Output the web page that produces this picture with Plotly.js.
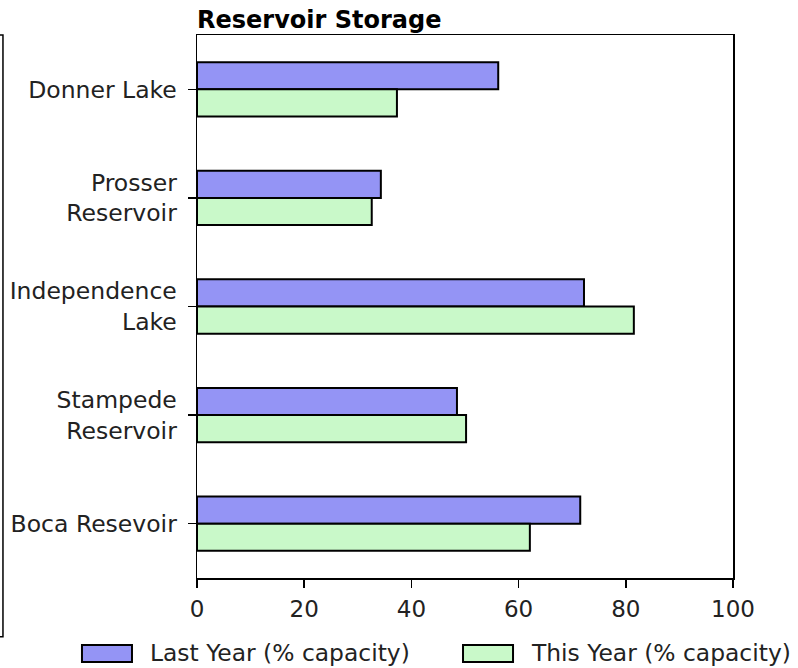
<!DOCTYPE html>
<html>
<head>
<meta charset="utf-8">
<script src="https://cdn.plot.ly/plotly-3.0.1.min.js"></script>
<style>html,body{margin:0;padding:0;background:#fff;}#chart{width:798px;height:668px;}</style>
</head>
<body>
<div id="chart"></div>
<script>
const categories = ["Donner Lake", "Prosser<br>Reservoir", "Independence<br>Lake", "Stampede<br>Reservoir", "Boca Resevoir"];
const lastYear = [56.2, 34.3, 72.2, 48.5, 71.5];
const thisYear = [37.3, 32.6, 81.5, 50.2, 62.1];
const seriesNames = ["Last Year (% capacity)", "This Year (% capacity)"];
const seriesColors = ["#9494f5", "#c9f9c9"];
const xTicks = [0, 20, 40, 60, 80, 100];
const chartTitle = "Reservoir Storage";

const font = "DejaVu Sans, sans-serif";
const traces = [lastYear, thisYear].map((vals, i) => ({
  type: "bar", orientation: "h",
  y: categories, x: vals, name: seriesNames[i],
  marker: {color: seriesColors[i], line: {color: "#000", width: 2}},
  showlegend: false, hoverinfo: "x+y"
}));

const shapes = [
  {type: "path", xref: "paper", yref: "paper",
   path: "M -0.368 1 L -0.362 1 L -0.362 -0.108 L -0.368 -0.108",
   line: {color: "#000", width: 1.5}}
];
const annotations = [];
const legX = [-0.2146, 0.4963];
seriesNames.forEach((n, i) => {
  shapes.push({type: "rect", xref: "paper", yref: "paper",
    x0: legX[i], x1: legX[i] + 0.0933, y0: -0.1547, y1: -0.1234,
    fillcolor: seriesColors[i], line: {color: "#000", width: 2}});
  annotations.push({xref: "paper", yref: "paper", x: legX[i] + 0.123, y: -0.139,
    xanchor: "left", yanchor: "middle", text: n, showarrow: false,
    font: {family: font, size: 23.4, color: "#222"}});
});

const layout = {
  width: 798, height: 668,
  margin: {l: 197, r: 65, t: 35, b: 90},
  paper_bgcolor: "#fff", plot_bgcolor: "#fff",
  barmode: "group", bargap: 0.5, bargroupgap: 0,
  title: {text: "<b>" + chartTitle + "</b>", x: 197/798, xanchor: "left", y: 0.97, yanchor: "middle",
          font: {family: font, size: 24, color: "#000"}},
  xaxis: {range: [0, 100], tickvals: xTicks, ticktext: xTicks.map(String),
          showgrid: false, zeroline: false, showline: true, mirror: true,
          linecolor: "#000", linewidth: 1.5, ticks: "outside", ticklen: 8, tickwidth: 1.5,
          tickcolor: "#000", ticklabelstandoff: 2, tickfont: {family: font, size: 23, color: "#222"}},
  yaxis: {autorange: "reversed", showgrid: false, zeroline: false, showline: true, mirror: true,
          linecolor: "#000", linewidth: 1.5, ticks: "outside", ticklen: 8, tickwidth: 1.5,
          tickcolor: "#000", ticklabelstandoff: 6, tickfont: {family: font, size: 23.5, color: "#222"}},
  shapes: shapes, annotations: annotations, showlegend: false
};
Plotly.newPlot("chart", traces, layout, {displayModeBar: false, staticPlot: true});
</script>
</body>
</html>
